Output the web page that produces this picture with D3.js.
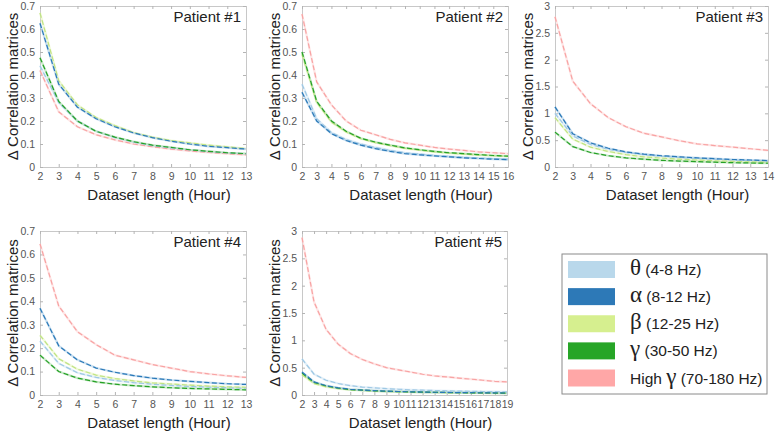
<!DOCTYPE html>
<html><head><meta charset="utf-8">
<script src="https://cdn.jsdelivr.net/npm/d3@7"></script>
<style>
body{margin:0;background:#fff;}
svg{display:block;font-family:"Liberation Sans",Arial,sans-serif;}
</style></head>
<body><svg id="c" width="776" height="432"></svg>
<script>
// ---- data ----
const seriesKeys = ["highGamma","theta","beta","gamma","alpha"];
const legendGreek = ["θ","α","β","γ","γ"];
const legendPrefix = ["","","","","High "];
const legendRange = ["(4-8 Hz)","(8-12 Hz)","(12-25 Hz)","(30-50 Hz)","(70-180 Hz)"];
const legendOrder = ["theta","alpha","beta","gamma","highGamma"];

const p1Hours = [2,3,4,5,6,7,8,9,10,11,12,13];
const p1Theta = [0.44,0.28,0.2,0.155,0.128,0.108,0.093,0.083,0.074,0.067,0.061,0.057];
const p1Alpha = [0.625,0.36,0.26,0.21,0.175,0.148,0.128,0.112,0.1,0.09,0.084,0.078];
const p1Beta  = [0.67,0.375,0.27,0.215,0.18,0.15,0.13,0.115,0.105,0.095,0.088,0.08];
const p1Gamma = [0.475,0.285,0.2,0.155,0.13,0.11,0.095,0.085,0.075,0.068,0.062,0.058];
const p1High  = [0.42,0.24,0.175,0.14,0.118,0.1,0.088,0.078,0.07,0.063,0.058,0.053];

const p2Hours = [2,3,4,5,6,7,8,9,10,11,12,13,14,15,16];
const p2Theta = [0.36,0.21,0.15,0.12,0.1,0.085,0.072,0.062,0.056,0.05,0.046,0.042,0.039,0.036,0.034];
const p2Alpha = [0.325,0.2,0.145,0.115,0.095,0.08,0.068,0.058,0.053,0.048,0.044,0.04,0.037,0.034,0.032];
const p2Beta  = [0.49,0.28,0.195,0.152,0.123,0.106,0.093,0.081,0.073,0.066,0.06,0.056,0.052,0.049,0.046];
const p2Gamma = [0.5,0.285,0.2,0.155,0.125,0.108,0.095,0.083,0.075,0.068,0.062,0.058,0.054,0.05,0.047];
const p2High  = [0.665,0.37,0.27,0.2,0.16,0.14,0.12,0.105,0.095,0.085,0.078,0.072,0.066,0.062,0.058];

const p3Hours = [2,3,4,5,6,7,8,9,10,11,12,13,14];
const p3Theta = [1.0,0.58,0.42,0.33,0.27,0.23,0.2,0.18,0.16,0.145,0.13,0.12,0.11];
const p3Alpha = [1.12,0.62,0.45,0.35,0.28,0.24,0.21,0.19,0.17,0.155,0.14,0.13,0.12];
const p3Beta  = [0.92,0.52,0.37,0.29,0.23,0.19,0.165,0.145,0.13,0.115,0.105,0.095,0.09];
const p3Gamma = [0.65,0.38,0.27,0.21,0.17,0.145,0.125,0.11,0.1,0.09,0.08,0.075,0.07];
const p3High  = [2.8,1.6,1.18,0.92,0.75,0.63,0.56,0.49,0.43,0.4,0.37,0.34,0.31];

const p4Hours = [2,3,4,5,6,7,8,9,10,11,12,13];
const p4Theta = [0.23,0.135,0.095,0.075,0.062,0.053,0.046,0.041,0.037,0.034,0.031,0.029];
const p4Alpha = [0.37,0.21,0.15,0.115,0.097,0.083,0.072,0.064,0.058,0.053,0.048,0.045];
const p4Beta  = [0.255,0.155,0.11,0.085,0.07,0.06,0.052,0.047,0.042,0.038,0.035,0.033];
const p4Gamma = [0.17,0.1,0.072,0.056,0.046,0.04,0.035,0.031,0.028,0.026,0.024,0.022];
const p4High  = [0.645,0.38,0.27,0.215,0.17,0.15,0.13,0.115,0.1,0.09,0.082,0.075];

const p5Hours = [2,3,4,5,6,7,8,9,10,11,12,13,14,15,16,17,18,19];
const p5Theta = [0.66,0.38,0.27,0.21,0.17,0.145,0.13,0.115,0.105,0.095,0.088,0.082,0.077,0.072,0.068,0.064,0.06,0.058];
const p5Alpha = [0.42,0.24,0.17,0.13,0.105,0.09,0.08,0.07,0.064,0.058,0.054,0.05,0.047,0.044,0.042,0.04,0.038,0.036];
const p5Beta  = [0.37,0.21,0.15,0.115,0.095,0.082,0.072,0.064,0.058,0.053,0.049,0.046,0.043,0.04,0.038,0.036,0.034,0.032];
const p5Gamma = [0.4,0.23,0.165,0.125,0.1,0.088,0.077,0.068,0.062,0.056,0.052,0.048,0.045,0.042,0.04,0.038,0.036,0.034];
const p5High  = [2.88,1.7,1.2,0.93,0.76,0.65,0.57,0.5,0.46,0.42,0.38,0.35,0.33,0.31,0.29,0.27,0.25,0.24];

const ticksSmall = [0,0.1,0.2,0.3,0.4,0.5,0.6,0.7];
const ticksLarge = [0,0.5,1,1.5,2,2.5,3];
const titles = ["Patient #1","Patient #2","Patient #3","Patient #4","Patient #5"];

// ---- style ----
const bandColor = {theta:"#cfe4f3", alpha:"#a5c9e6", beta:"#e6f5bd", gamma:"#a9dca9", highGamma:"#fdd6d6"};
const dashColor = {theta:"#9ec8e4", alpha:"#2a79b8", beta:"#bfe384", gamma:"#26a126", highGamma:"#f8a3a3"};
const patchColor = {theta:"#b9d8eb", alpha:"#2d79b7", beta:"#d6ef8f", gamma:"#27a527", highGamma:"#ffa7a7"};

const svg = d3.select("#c");

const panels = [
  {title:titles[0], hours:p1Hours, data:{theta:p1Theta,alpha:p1Alpha,beta:p1Beta,gamma:p1Gamma,highGamma:p1High}, yMax:0.7, yTicks:ticksSmall, x0:40, x1:246, y0:6, y1:167},
  {title:titles[1], hours:p2Hours, data:{theta:p2Theta,alpha:p2Alpha,beta:p2Beta,gamma:p2Gamma,highGamma:p2High}, yMax:0.7, yTicks:ticksSmall, x0:302, x1:508, y0:6, y1:167},
  {title:titles[2], hours:p3Hours, data:{theta:p3Theta,alpha:p3Alpha,beta:p3Beta,gamma:p3Gamma,highGamma:p3High}, yMax:3, yTicks:ticksLarge, x0:555, x1:768, y0:6, y1:167},
  {title:titles[3], hours:p4Hours, data:{theta:p4Theta,alpha:p4Alpha,beta:p4Beta,gamma:p4Gamma,highGamma:p4High}, yMax:0.7, yTicks:ticksSmall, x0:40, x1:246, y0:231, y1:395},
  {title:titles[4], hours:p5Hours, data:{theta:p5Theta,alpha:p5Alpha,beta:p5Beta,gamma:p5Gamma,highGamma:p5High}, yMax:3, yTicks:ticksLarge, x0:302, x1:507, y0:231, y1:395}
];

const fmt = d => (d===0?"0":String(d));

panels.forEach(p => {
  const g = svg.append("g");
  const x = d3.scaleLinear().domain([p.hours[0], p.hours[p.hours.length-1]]).range([p.x0, p.x1]);
  const y = d3.scaleLinear().domain([0, p.yMax]).range([p.y1, p.y0]);

  const ax = d3.axisBottom(x).tickValues(p.hours).tickSize(-3).tickPadding(6).tickFormat(d=>d);
  const ay = d3.axisLeft(y).tickValues(p.yTicks).tickSize(-3).tickPadding(5).tickFormat(fmt);
  const axT = d3.axisTop(x).tickValues(p.hours).tickSize(-3).tickFormat("");
  const ayR = d3.axisRight(y).tickValues(p.yTicks).tickSize(-3).tickFormat("");
  [[ax,`translate(0,${p.y1})`],[ay,`translate(${p.x0},0)`],[axT,`translate(0,${p.y0})`],[ayR,`translate(${p.x1},0)`]].forEach(([a,t])=>{
    const gg = g.append("g").attr("transform",t).call(a);
    gg.select(".domain").attr("stroke","#c8c8c8").attr("stroke-width",1);
    gg.selectAll(".tick line").attr("stroke","#b4b4b4");
    gg.selectAll(".tick text").attr("fill","#555").style("font-size","10.5px").style("font-family","Liberation Sans, Arial, sans-serif");
  });

  const line = d3.line().x((d,i)=>x(p.hours[i])).y(d=>y(d));
  seriesKeys.forEach(k => {
    g.append("path").datum(p.data[k]).attr("d",line).attr("fill","none")
      .attr("stroke",bandColor[k]).attr("stroke-width",2.2).attr("stroke-opacity",0.6);
  });
  seriesKeys.forEach(k => {
    g.append("path").datum(p.data[k]).attr("d",line).attr("fill","none")
      .attr("stroke",dashColor[k]).attr("stroke-width",1.2).attr("stroke-dasharray","5,2.5");
  });

  g.append("text").attr("x",p.x1-5).attr("y",p.y0+16).attr("text-anchor","end")
    .style("font-size","15px").attr("fill","#222").text(p.title);

  g.append("text").attr("x",(p.x0+p.x1)/2+16).attr("y",p.y1+33).attr("text-anchor","middle")
    .style("font-size","15px").attr("fill","#222").text("Dataset length (Hour)");

  g.append("text").attr("transform",`translate(${p.x0-22},${(p.y0+p.y1)/2}) rotate(-90)`)
    .attr("text-anchor","middle").style("font-size","15px").attr("fill","#222").text("Δ Correlation matrices");
});

// legend
const lg = svg.append("g");
const lx0 = 562, lx1 = 767, ly0 = 254, ly1 = 394;
lg.append("rect").attr("x",lx0).attr("y",ly0).attr("width",lx1-lx0).attr("height",ly1-ly0)
  .attr("fill","#fff").attr("stroke","#8a8a8a").attr("stroke-width",1);
const ly = d3.scalePoint().domain(legendOrder).range([269.5,378]);
legendOrder.forEach((k,i) => {
  const cy = ly(k);
  lg.append("rect").attr("x",568).attr("y",cy-8.5).attr("width",47).attr("height",17).attr("fill",patchColor[k]);
  const t = lg.append("text").attr("x",630).attr("y",cy+5.5).attr("fill","#222").style("font-size","15.5px");
  if (legendPrefix[i]) t.append("tspan").text(legendPrefix[i]);
  t.append("tspan").style("font-family","Liberation Serif, Times New Roman, serif").style("font-size","23px").text(legendGreek[i]);
  t.append("tspan").text(" " + legendRange[i]);
});
</script></body></html>
